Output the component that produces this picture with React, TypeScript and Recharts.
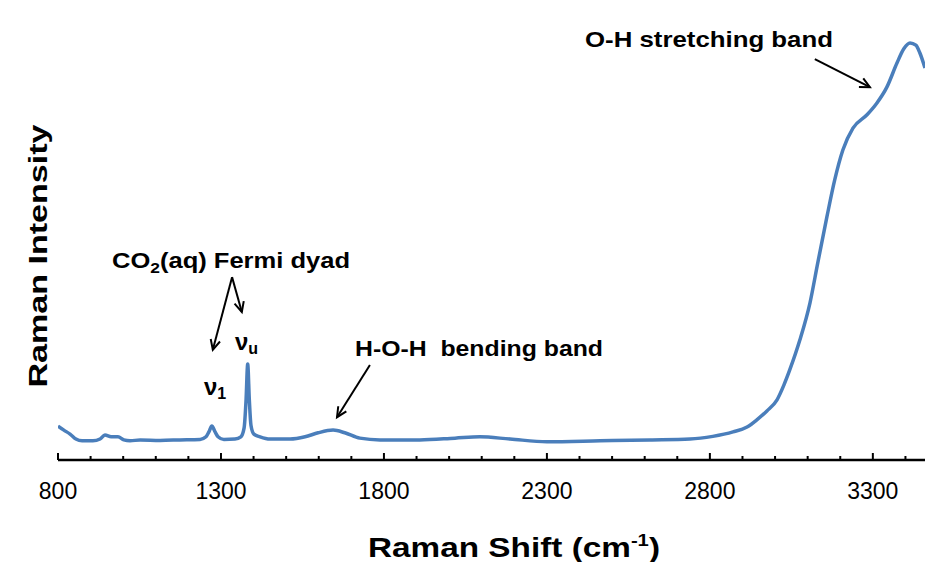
import React from 'react';
import {
    LineChart,
    Line,
    XAxis,
    YAxis,
    ReferenceLine,
    Customized,
} from 'recharts';

// Raman shift (cm-1)
const shift = [
    800, 818, 837, 855, 874, 907, 929, 944, 963, 984, 1002, 1021, 1052, 1113, 1174,
    1236, 1254, 1263, 1272, 1282, 1291, 1309, 1343, 1361, 1371, 1377, 1382, 1387,
    1392, 1401, 1420, 1450, 1512, 1558, 1598, 1644, 1680, 1726, 1788, 1910, 2018,
    2094, 2187, 2300, 2463, 2616, 2739, 2809, 2871, 2914, 2944, 2975, 3006, 3027,
    3045, 3076, 3107, 3131, 3159, 3183, 3208, 3239, 3282, 3312, 3343, 3374, 3395,
    3414, 3432, 3444, 3460,
];

// intensity, arbitrary units (axis 0..100)
const intensity = [
    7.6, 6.7, 5.8, 4.7, 4.3, 4.3, 4.7, 5.6, 5.2, 5.2, 4.5, 4.3, 4.5, 4.4, 4.5,
    4.6, 5.2, 6.3, 7.6, 6.3, 5.2, 4.6, 4.7, 5.2, 7.2, 13.5, 21.5, 13.5,
    7.8, 5.8, 5.2, 4.7, 4.7, 5.2, 6.1, 6.7, 6.1, 4.9, 4.5, 4.5, 4.9,
    5.2, 4.7, 4.1, 4.3, 4.5, 4.7, 5.3, 6.3, 7.4, 9.0, 11.0, 13.5, 16.8,
    20.2, 26.9, 35.2, 44.2, 54.5, 62.8, 69.5, 74.4, 77.4, 80.0, 83.6, 89.0, 92.2,
    93.5, 93.0, 91.3, 87.9,
];

const shiftTicks = [
    800, 900, 1000, 1100, 1200, 1300, 1400, 1500, 1600, 1700, 1800, 1900, 2000,
    2100, 2200, 2300, 2400, 2500, 2600, 2700, 2800, 2900, 3000, 3100, 3200, 3300, 3400,
];
const labelledTicks = [800, 1300, 1800, 2300, 2800, 3300];

// annotation arrows: [from, to] in data units
const arrows = [
    [{ x: 1334, y: 41 }, { x: 1275, y: 24.7 }],
    [{ x: 1334, y: 41 }, { x: 1364, y: 33.2 }],
    [{ x: 1757, y: 21.3 }, { x: 1656, y: 9.6 }],
    [{ x: 3122, y: 89.9 }, { x: 3291, y: 83.6 }],
];

const data = shift.map((s, i) => ({ shift: s, intensity: intensity[i] }));

const FONT = '"Liberation Sans", Arial, sans-serif';

const ShiftTick = (props: any) => {
    const { x, y, payload } = props;
    const major = labelledTicks.includes(payload.value);
    return (
        <g>
            <line x1={x} y1={y} x2={x} y2={y - (major ? 7 : 4)} stroke="#000" strokeWidth={2} />
            {major && (
                <text x={x} y={y + 39} textAnchor="middle" fontSize={23} fontFamily={FONT} fill="#000">
                    {payload.value}
                </text>
            )}
        </g>
    );
};

const ArrowShape = (props: any) => {
    const { x1, y1, x2, y2 } = props;
    const ang = Math.atan2(y2 - y1, x2 - x1);
    const len = 11;
    const spread = 0.45;
    const ax = x2 - len * Math.cos(ang - spread);
    const ay = y2 - len * Math.sin(ang - spread);
    const bx = x2 - len * Math.cos(ang + spread);
    const by = y2 - len * Math.sin(ang + spread);
    return (
        <g stroke="#000" strokeWidth={2} fill="none">
            <line x1={x1} y1={y1} x2={x2} y2={y2} />
            <polyline points={`${ax},${ay} ${x2},${y2} ${bx},${by}`} />
        </g>
    );
};

const Annotations = () => (
    <g fontFamily={FONT} fontWeight="bold" fill="#000">
        <text x={112} y={268} fontSize={22} textLength={238} lengthAdjust="spacingAndGlyphs">
            CO<tspan fontSize={15} dy={5}>2</tspan>
            <tspan dy={-5}>(aq) Fermi dyad</tspan>
        </text>
        <text x={204} y={395} fontSize={24}>
            ν<tspan fontSize={16} dy={4}>1</tspan>
        </text>
        <text x={235} y={350} fontSize={24}>
            ν<tspan fontSize={16} dy={4}>u</tspan>
        </text>
        <text x={355} y={356} fontSize={22} textLength={248} lengthAdjust="spacingAndGlyphs" style={{ whiteSpace: 'pre' }}>
            H-O-H  bending band
        </text>
        <text x={585} y={47} fontSize={22} textLength={248} lengthAdjust="spacingAndGlyphs">
            O-H stretching band
        </text>
        <text
            x={47}
            y={256}
            fontSize={26}
            textAnchor="middle"
            transform="rotate(-90 47 256)"
            textLength={263}
            lengthAdjust="spacingAndGlyphs"
        >
            Raman Intensity
        </text>
        <text x={514} y={557} fontSize={28} textAnchor="middle" textLength={292} lengthAdjust="spacingAndGlyphs">
            Raman Shift (cm<tspan fontSize={17} dy={-11}>-1</tspan>
            <tspan dy={11}>)</tspan>
        </text>
    </g>
);

export default function App() {
    return (
        <div style={{ position: 'absolute', left: 0, top: 0, width: 925, height: 562, background: '#fff' }}>
            <LineChart width={925} height={562} data={data} margin={{ top: 14, right: 0, left: 58, bottom: 0 }}>
                <XAxis
                    dataKey="shift"
                    type="number"
                    domain={[800, 3460]}
                    allowDataOverflow
                    ticks={shiftTicks}
                    interval={0}
                    tick={<ShiftTick />}
                    tickLine={false}
                    tickSize={0}
                    tickMargin={0}
                    height={102}
                    axisLine={{ stroke: '#000', strokeWidth: 2.5 }}
                />
                <YAxis
                    type="number"
                    domain={[0, 100]}
                    width={0}
                    tick={false}
                    tickLine={false}
                    axisLine={{ stroke: '#000', strokeWidth: 2.5 }}
                />
                <Line
                    type="monotone"
                    dataKey="intensity"
                    stroke="#4A7EBB"
                    strokeWidth={3.5}
                    dot={false}
                    activeDot={false}
                    isAnimationActive={false}
                />
                {arrows.map((seg, i) => (
                    <ReferenceLine key={i} segment={seg} shape={ArrowShape} ifOverflow="visible" />
                ))}
                <Customized component={Annotations} />
            </LineChart>
        </div>
    );
}
